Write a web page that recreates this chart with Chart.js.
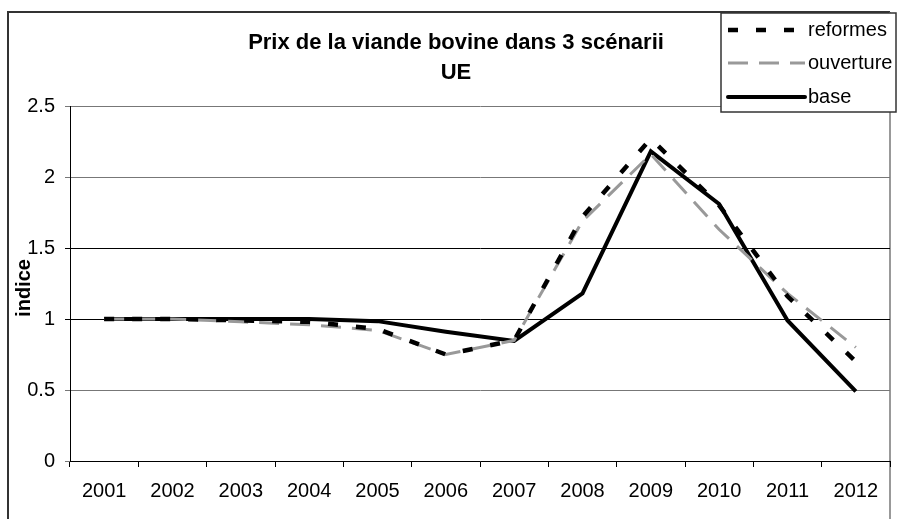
<!DOCTYPE html>
<html>
<head>
<meta charset="utf-8">
<script src="https://cdn.jsdelivr.net/npm/chart.js@4.4.1/dist/chart.umd.min.js"></script>
<style>
  body { margin: 0; background: #fff; }
  canvas { display: block; }
</style>
</head>
<body>
<canvas id="prixChart" width="897" height="519"></canvas>
<script>
// annees et indices
const years = ['2001', '2002', '2003', '2004', '2005', '2006', '2007', '2008', '2009', '2010', '2011', '2012'];
const reformes = [1.0, 1.0, 0.99, 0.98, 0.93, 0.75, 0.85, 1.72, 2.27, 1.80, 1.16, 0.70];
const ouverture = [1.0, 1.0, 0.98, 0.96, 0.92, 0.75, 0.85, 1.69, 2.16, 1.63, 1.18, 0.80];
const base = [1.0, 1.0, 1.0, 1.0, 0.985, 0.91, 0.845, 1.18, 2.18, 1.81, 0.99, 0.49];
const yTicks = [0, 0.5, 1, 1.5, 2, 2.5];

const titleLines = ['Prix de la viande bovine dans 3 scénarii', 'UE'];
const yTitle = 'indice';
const FONT = '"Liberation Sans", Arial, sans-serif';

const decor = {
    id: 'decor',
    beforeDraw(chart) {
        const ctx = chart.ctx;
        ctx.save();
        ctx.fillStyle = '#fff';
        ctx.fillRect(0, 0, chart.width, chart.height);
        // cadre du graphique
        ctx.lineWidth = 2;
        ctx.strokeStyle = '#333';
        ctx.beginPath();
        ctx.moveTo(8, chart.height);
        ctx.lineTo(8, 12);
        ctx.lineTo(890, 12);
        ctx.stroke();
        ctx.strokeStyle = '#999';
        ctx.beginPath();
        ctx.moveTo(890, 12);
        ctx.lineTo(890, chart.height);
        ctx.stroke();
        ctx.restore();
    },
    afterDraw(chart) {
        const ctx = chart.ctx;
        ctx.save();
        // titre
        ctx.fillStyle = '#000';
        ctx.textAlign = 'center';
        ctx.textBaseline = 'middle';
        ctx.font = 'bold 22px ' + FONT;
        ctx.fillText(titleLines[0], 456, 43);
        ctx.fillText(titleLines[1], 456, 73);
        // titre axe y
        ctx.save();
        ctx.translate(24, 288);
        ctx.rotate(-Math.PI / 2);
        ctx.font = 'bold 20px ' + FONT;
        ctx.fillText(yTitle, 0, 0);
        ctx.restore();
        // legende
        ctx.fillStyle = '#fff';
        ctx.fillRect(721, 13, 175, 99);
        ctx.strokeStyle = '#333';
        ctx.lineWidth = 1.5;
        ctx.strokeRect(721, 13, 175, 99);
        const rows = [30, 63, 97];
        chart.data.datasets.forEach((ds, i) => {
            ctx.beginPath();
            ctx.strokeStyle = ds.borderColor;
            ctx.lineWidth = ds.borderWidth;
            ctx.setLineDash(ds.borderDash || []);
            ctx.lineCap = ds.borderDash ? 'butt' : 'round';
            ctx.moveTo(728, rows[i]);
            ctx.lineTo(805, rows[i]);
            ctx.stroke();
            ctx.setLineDash([]);
            ctx.fillStyle = '#000';
            ctx.textAlign = 'left';
            ctx.font = '20px ' + FONT;
            ctx.fillText(ds.label, 808, rows[i]);
        });
        ctx.restore();
    }
};

const ctx = document.getElementById('prixChart').getContext('2d');
const myChart = new Chart(ctx, {
    type: 'line',
    data: {
        labels: years,
        datasets: [
            {
                label: 'reformes',
                data: reformes,
                borderColor: '#000',
                borderWidth: 4.5,
                borderDash: [10, 18],
                pointRadius: 0,
                tension: 0
            },
            {
                label: 'ouverture',
                data: ouverture,
                borderColor: '#999',
                borderWidth: 3,
                borderDash: [20, 11],
                pointRadius: 0,
                tension: 0
            },
            {
                label: 'base',
                data: base,
                borderColor: '#000',
                borderWidth: 4,
                pointRadius: 0,
                tension: 0,
                borderJoinStyle: 'miter'
            }
        ]
    },
    plugins: [decor],
    options: {
        responsive: false,
        animation: false,
        layout: { padding: { top: 106, right: 7, left: 0, bottom: 0 } },
        plugins: {
            legend: { display: false },
            title: { display: false },
            tooltip: { enabled: false }
        },
        scales: {
            x: {
                offset: true,
                grid: {
                    offset: true,
                    drawOnChartArea: false,
                    drawTicks: true,
                    tickLength: 6,
                    color: '#000'
                },
                border: { color: '#000', width: 1 },
                ticks: {
                    color: '#000',
                    font: { family: FONT, size: 20 },
                    padding: 12,
                    maxRotation: 0,
                    autoSkip: false
                },
                afterFit(scale) { scale.height = 58; }
            },
            y: {
                min: 0,
                max: 2.5,
                afterBuildTicks(scale) {
                    scale.ticks = yTicks.map(v => ({ value: v }));
                },
                grid: {
                    tickLength: 5,
                    color: ctx => (ctx.tick && (ctx.tick.value === 1 || ctx.tick.value === 1.5)) ? '#000' : '#777'
                },
                border: { color: '#000', width: 1 },
                ticks: {
                    color: '#000',
                    font: { family: FONT, size: 20 },
                    padding: 10,
                    callback: v => String(v)
                },
                afterFit(scale) { scale.width = 70; }
            }
        }
    }
});
</script>
</body>
</html>
